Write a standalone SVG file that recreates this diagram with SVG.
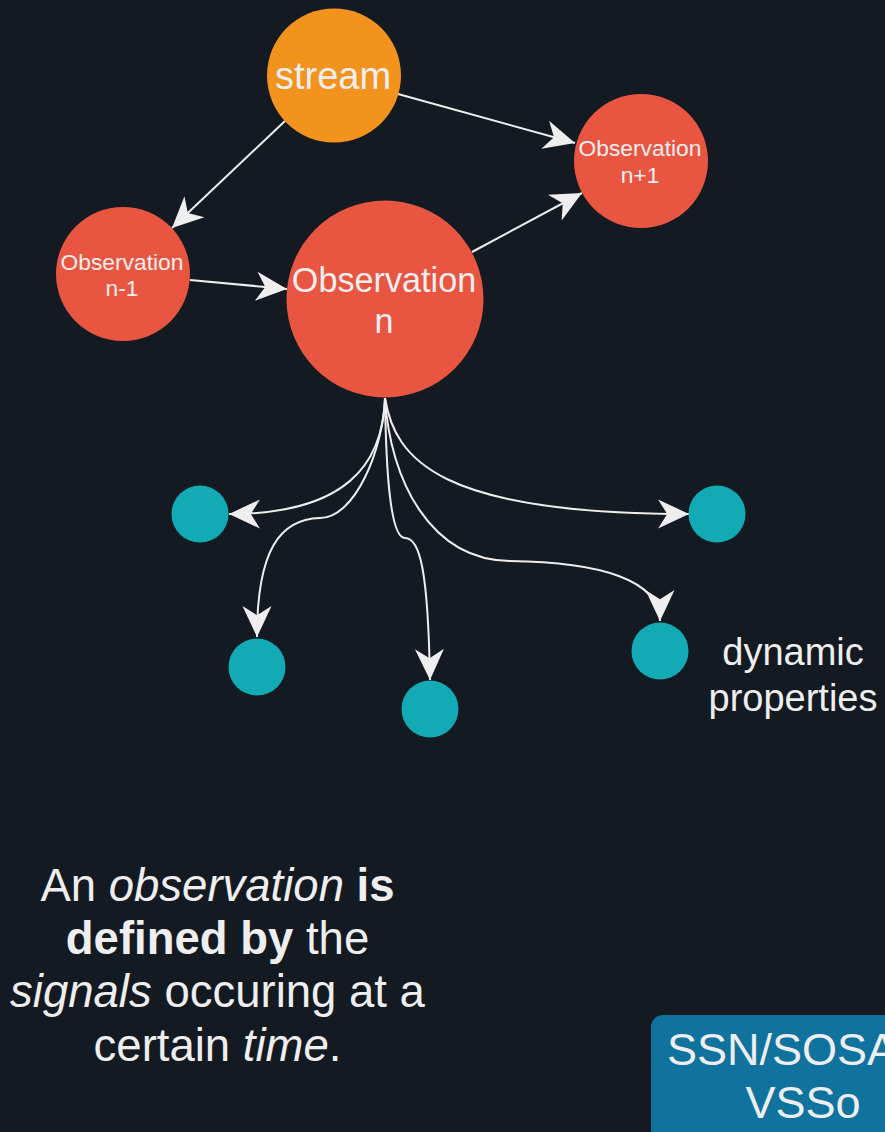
<svg xmlns="http://www.w3.org/2000/svg" width="885" height="1132" viewBox="0 0 885 1132">
<defs>
<style>
.t{font-family:"Liberation Sans",Arial,Helvetica,sans-serif;fill:#EEEEEE;text-anchor:middle}
.e{fill:none;stroke:#EEEEEE;stroke-width:2}
.obs{fill:#E85642}
.prop{fill:#12AAB5}
</style>
<marker id="arr" markerUnits="userSpaceOnUse" orient="auto" refX="0" refY="0" markerWidth="40" markerHeight="40" viewBox="-20 -10 22 20" overflow="visible">
<path d="M0,0 L-17,-8 L-12,0 L-17,8 Z" fill="#EEEEEE"/>
</marker>
</defs>
<rect width="885" height="1132" fill="#131A22"/>
<g id="connectors">
<path class="e" d="M285,121 L172,228" marker-end="url(#arr)"/>
<path class="e" d="M398,94 L575,143" marker-end="url(#arr)"/>
<path class="e" d="M190,280 L287,289" marker-end="url(#arr)"/>
<path class="e" d="M472,252 L582,193" marker-end="url(#arr)"/>
<path class="e" d="M385,398 C383,465 345,514 229,514" marker-end="url(#arr)"/>
<path class="e" d="M385,398 C383,450 355,518 320,518 C280,519 257,550 257,637" marker-end="url(#arr)"/>
<path class="e" d="M385,398 C386,470 390,538 405,538 C420,538 428,570 430,680" marker-end="url(#arr)"/>
<path class="e" d="M385,398 C390,480 430,560 510,561 C600,562 660,580 660,621" marker-end="url(#arr)"/>
<path class="e" d="M385,398 C395,460 440,514 689,514" marker-end="url(#arr)"/>
</g>
<g id="stream">
<circle cx="334" cy="75.5" r="67" fill="#F2931E"/>
<text class="t" x="333" y="89" font-size="38">stream</text>
</g>
<g id="obs-n-plus-1">
<circle class="obs" cx="641" cy="161" r="67"/>
<text class="t" x="640" y="156" font-size="22.8">Observation</text>
<text class="t" x="640" y="183" font-size="22.8">n+1</text>
</g>
<g id="obs-n-minus-1">
<circle class="obs" cx="123" cy="274" r="67"/>
<text class="t" x="122" y="270" font-size="22.8">Observation</text>
<text class="t" x="122" y="296" font-size="22.8">n-1</text>
</g>
<g id="obs-n">
<circle class="obs" cx="385" cy="299" r="98.5"/>
<text class="t" x="384" y="292" font-size="34.2">Observation</text>
<text class="t" x="384" y="333" font-size="34.2">n</text>
</g>
<g id="prop1"><circle class="prop" cx="200" cy="514" r="28.5"/></g>
<g id="prop2"><circle class="prop" cx="257" cy="667" r="28.5"/></g>
<g id="prop3"><circle class="prop" cx="430" cy="709" r="28.5"/></g>
<g id="prop4"><circle class="prop" cx="660" cy="651" r="28.5"/></g>
<g id="prop5"><circle class="prop" cx="717" cy="514" r="28.5"/></g>
<g id="label-dynamic">
<text class="t" x="793" y="665" font-size="38">dynamic</text>
<text class="t" x="793" y="711" font-size="38">properties</text>
</g>
<g id="caption">
<text class="t" x="217.5" y="901" font-size="45.5">An <tspan font-style="italic">observation</tspan> <tspan font-weight="bold">is</tspan></text>
<text class="t" x="217.5" y="954" font-size="45.5"><tspan font-weight="bold">defined by</tspan> the</text>
<text class="t" x="217.5" y="1007" font-size="45.5"><tspan font-style="italic">signals</tspan> occuring at a</text>
<text class="t" x="217.5" y="1061" font-size="45.5">certain <tspan font-style="italic">time</tspan>.</text>
</g>
<g id="ssn-box">
<rect x="651" y="1015" width="300" height="160" rx="12" fill="#10739E"/>
<text class="t" x="667" y="1065" font-size="45" style="text-anchor:start">SSN/SOSA</text>
<text class="t" x="803" y="1118" font-size="45">VSSo</text>
</g>
</svg>
